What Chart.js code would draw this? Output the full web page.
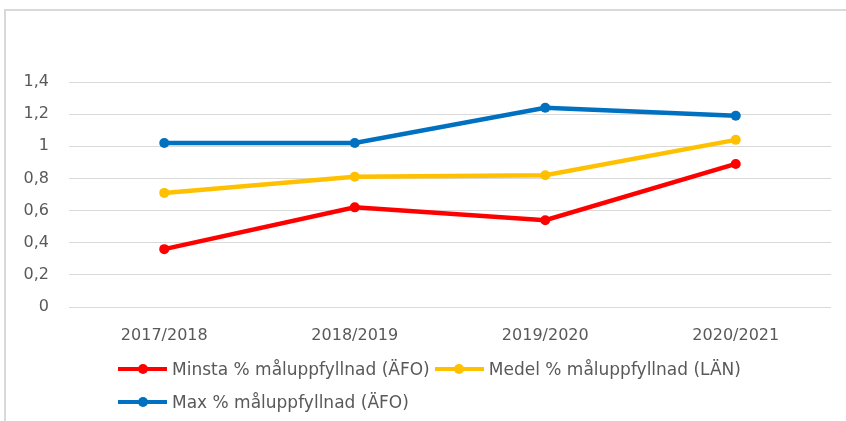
<!DOCTYPE html>
<html>
<head>
<meta charset="utf-8">
<script src="https://cdn.jsdelivr.net/npm/chart.js@4/dist/chart.umd.min.js"></script>
<style>
    html, body { margin: 0; padding: 0; background: #fff; }
    #wrap { position: relative; width: 846px; height: 421px; overflow: hidden; }
    #frame { position: absolute; left: 4px; top: 9px; right: -10px; bottom: -10px; border-top: 2px solid #d9d9d9; border-left: 2px solid #d9d9d9; }
    #legend { position: absolute; left: 118px; top: 352px; width: 660px; display: flex; flex-wrap: wrap;
              font-family: 'DejaVu Sans'; font-size: 17px; color: #595959; }
    .item { display: flex; align-items: center; height: 33px; margin-right: 5px; white-space: nowrap; }
    .swatch { position: relative; width: 49px; height: 4px; margin-right: 5px; }
    .swatch i { position: absolute; left: 19.5px; top: -3px; width: 10px; height: 10px; border-radius: 50%; }
</style>
</head>
<body>
<div id="wrap">
    <canvas id="lineChart" width="846" height="421"></canvas>
    <div id="frame"></div>
    <div id="legend"></div>
</div>
<script>
// Läsår på x-axeln
const LASAR = ['2017/2018', '2018/2019', '2019/2020', '2020/2021'];

// Måluppfyllnad per serie
const MINSTA = [0.36, 0.62, 0.54, 0.89];
const MEDEL = [0.71, 0.81, 0.82, 1.04];
const MAX = [1.02, 1.02, 1.24, 1.19];

const SERIE_NAMN = ['Minsta % måluppfyllnad (ÄFO)', 'Medel % måluppfyllnad (LÄN)', 'Max % måluppfyllnad (ÄFO)'];
const Y_ETIKETTER = ['0', '0,2', '0,4', '0,6', '0,8', '1', '1,2', '1,4'];

const FARGER = ['#ff0000', '#ffc000', '#0070c0'];
const TEXTFARG = '#595959';
const FONT = { family: 'DejaVu Sans', size: 16 };

function serie(i, data) {
    return {
        label: SERIE_NAMN[i],
        data: data,
        borderColor: FARGER[i],
        backgroundColor: FARGER[i],
        borderWidth: 4.5,
        pointRadius: 5,
        pointHoverRadius: 5,
        pointBorderWidth: 0,
        tension: 0
    };
}

const ctx = document.getElementById('lineChart').getContext('2d');
const chart = new Chart(ctx, {
    type: 'line',
    data: {
        labels: LASAR,
        datasets: [serie(0, MINSTA), serie(1, MEDEL), serie(2, MAX)]
    },
    options: {
        responsive: false,
        animation: false,
        layout: { padding: { left: 5, top: 82, right: 15, bottom: 74 } },
        plugins: { legend: { display: false }, tooltip: { enabled: false } },
        scales: {
            x: {
                offset: true,
                grid: { display: false },
                border: { display: false },
                ticks: { color: TEXTFARG, font: FONT, padding: 11, maxRotation: 0 },
                afterFit: s => { s.height = 40; }
            },
            y: {
                min: 0,
                max: 1.4,
                grid: { color: '#d9d9d9', lineWidth: 1, drawTicks: false },
                border: { display: false },
                ticks: {
                    stepSize: 0.2,
                    color: TEXTFARG,
                    font: FONT,
                    padding: 20,
                    callback: (v, i) => Y_ETIKETTER[i]
                },
                afterFit: s => { s.width = 64; }
            }
        }
    }
});

// Förklaring under diagrammet, vänsterställd som i Excel
const legend = document.getElementById('legend');
chart.data.datasets.forEach(ds => {
    const item = document.createElement('div');
    item.className = 'item';
    item.innerHTML = '<span class="swatch" style="background:' + ds.borderColor + '"><i style="background:' +
        ds.borderColor + '"></i></span>' + ds.label;
    legend.appendChild(item);
});
</script>
</body>
</html>
